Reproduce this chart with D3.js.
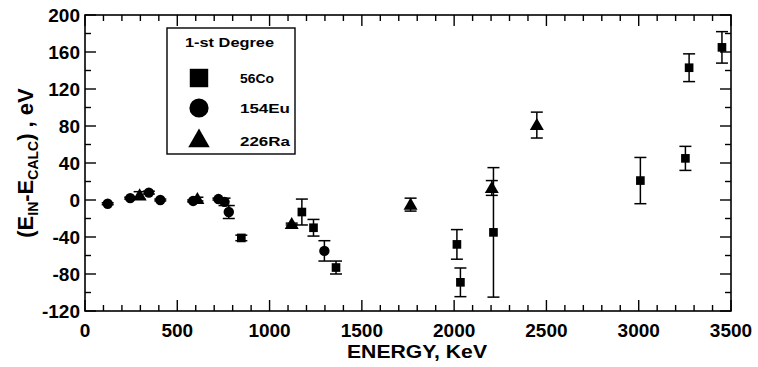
<!DOCTYPE html>
<html><head><meta charset="utf-8">
<script src="https://cdn.jsdelivr.net/npm/d3@7"></script>
<style>
body{margin:0;background:#fff;}
text{font-family:"Liberation Sans",Arial,sans-serif;font-weight:bold;fill:#000;}
</style></head>
<body>
<svg id="c" width="758" height="367"></svg>
<script>
// 56Co: energy, deviation, error
const coE   = [847, 1175, 1238, 1360, 2015, 2034, 2213, 3009, 3253, 3273, 3451];
const coV   = [-41, -13, -30, -73, -48, -89, -35, 21, 45, 143, 165];
const coErr = [3, 14, 9, 7, 16, 15.5, 70, 25, 13, 15, 17];
// 154Eu
const euE   = [123, 245, 346, 408, 586, 723, 756, 779, 1297];
const euV   = [-4, 2, 8, 0, -1, 1, -2, -13, -55];
const euErr = [1, 1, 1.5, 1, 1, 1, 4, 7, 11];
// 226Ra
const raE   = [296, 609, 1120, 1764, 2204, 2448];
const raV   = [5, 1, -26, -5, 13, 81];
const raErr = [4, 2, 1, 7, 8, 14];

const xTicks = [0, 500, 1000, 1500, 2000, 2500, 3000, 3500];
const yTicks = [-120, -80, -40, 0, 40, 80, 120, 160, 200];
const legendLabels = ["56Co", "154Eu", "226Ra"];

const svg = d3.select("#c");
const L = 85, R = 731, T = 15, B = 311;
const x = d3.scaleLinear().domain([0, 3500]).range([L, R]);
const y = d3.scaleLinear().domain([-120, 200]).range([B, T]);

const minorX = d3.range(0, 3501, 100);
const minorY = d3.range(-120, 201, 20);

const g = svg.append("g");
g.append("rect").attr("x", L).attr("y", T).attr("width", R - L).attr("height", B - T)
  .attr("fill", "none").attr("stroke", "#000").attr("stroke-width", 1.6);

minorX.forEach(v => {
  const len = v % 500 === 0 ? 11 : 6;
  g.append("line").attr("x1", x(v)).attr("x2", x(v)).attr("y1", B).attr("y2", B - len).attr("stroke", "#000").attr("stroke-width", 1.4);
  g.append("line").attr("x1", x(v)).attr("x2", x(v)).attr("y1", T).attr("y2", T + len).attr("stroke", "#000").attr("stroke-width", 1.4);
});
minorY.forEach(v => {
  const len = v % 40 === 0 ? 11 : 6;
  g.append("line").attr("y1", y(v)).attr("y2", y(v)).attr("x1", L).attr("x2", L + len).attr("stroke", "#000").attr("stroke-width", 1.4);
  g.append("line").attr("y1", y(v)).attr("y2", y(v)).attr("x1", R).attr("x2", R - len).attr("stroke", "#000").attr("stroke-width", 1.4);
});

xTicks.forEach(v => {
  g.append("text").attr("x", x(v)).attr("y", 337).attr("text-anchor", "middle")
    .attr("font-size", 19).text(v);
});
yTicks.forEach(v => {
  g.append("text").attr("x", 80).attr("y", y(v) + 7).attr("text-anchor", "end")
    .attr("font-size", 19).text(v);
});

g.append("text").attr("x", 417).attr("y", 358).attr("text-anchor", "middle")
  .attr("font-size", 19).attr("textLength", 140).attr("lengthAdjust", "spacingAndGlyphs")
  .text("ENERGY, KeV");
const yt = g.append("text").attr("transform", "translate(33,163) rotate(-90)")
  .attr("text-anchor", "middle").attr("font-size", 22);
yt.append("tspan").text("(E");
yt.append("tspan").attr("font-size", 14).attr("dy", 5).text("IN");
yt.append("tspan").attr("dy", -5).text("-E");
yt.append("tspan").attr("font-size", 14).attr("dy", 5).text("CALC");
yt.append("tspan").attr("dy", -5).text(") , eV");

function errBars(E, V, Er) {
  E.forEach((e, i) => {
    const cx = x(e), y1 = y(V[i] + Er[i]), y2 = y(V[i] - Er[i]);
    g.append("line").attr("x1", cx).attr("x2", cx).attr("y1", y1).attr("y2", y2).attr("stroke", "#000").attr("stroke-width", 1.5);
    [y1, y2].forEach(yy => g.append("line").attr("x1", cx - 6).attr("x2", cx + 6).attr("y1", yy).attr("y2", yy).attr("stroke", "#000").attr("stroke-width", 1.5));
  });
}
errBars(coE, coV, coErr);
errBars(euE, euV, euErr);
errBars(raE, raV, raErr);

const sq = d3.symbol().type(d3.symbolSquare).size(75);
const ci = d3.symbol().type(d3.symbolCircle).size(85);
const tr = d3.symbol().type(d3.symbolTriangle).size(85);

coE.forEach((e, i) => g.append("path").attr("d", sq()).attr("transform", `translate(${x(e)},${y(coV[i])})`).attr("fill", "#000"));
euE.forEach((e, i) => g.append("path").attr("d", ci()).attr("transform", `translate(${x(e)},${y(euV[i])})`).attr("fill", "#000"));
raE.forEach((e, i) => g.append("path").attr("d", tr()).attr("transform", `translate(${x(e)},${y(raV[i]) + 1})`).attr("fill", "#000"));

const lg = svg.append("g");
lg.append("rect").attr("x", 167).attr("y", 28).attr("width", 128).attr("height", 126)
  .attr("fill", "#fff").attr("stroke", "#000").attr("stroke-width", 1.4);
lg.append("text").attr("x", 185).attr("y", 47).attr("font-size", 13)
  .attr("textLength", 89).attr("lengthAdjust", "spacingAndGlyphs").text("1-st Degree");
const legSyms = [d3.symbol().type(d3.symbolSquare).size(340), d3.symbol().type(d3.symbolCircle).size(290), d3.symbol().type(d3.symbolTriangle).size(200)];
const legY = [78, 108, 141];
const legW = [34, 50, 50];
legendLabels.forEach((lab, i) => {
  lg.append("path").attr("d", legSyms[i]()).attr("transform", `translate(199,${legY[i]})`).attr("fill", "#000");
  lg.append("text").attr("x", 240).attr("y", legY[i] + 5).attr("font-size", 13)
    .attr("textLength", legW[i]).attr("lengthAdjust", "spacingAndGlyphs").text(lab);
});
</script>
</body></html>
